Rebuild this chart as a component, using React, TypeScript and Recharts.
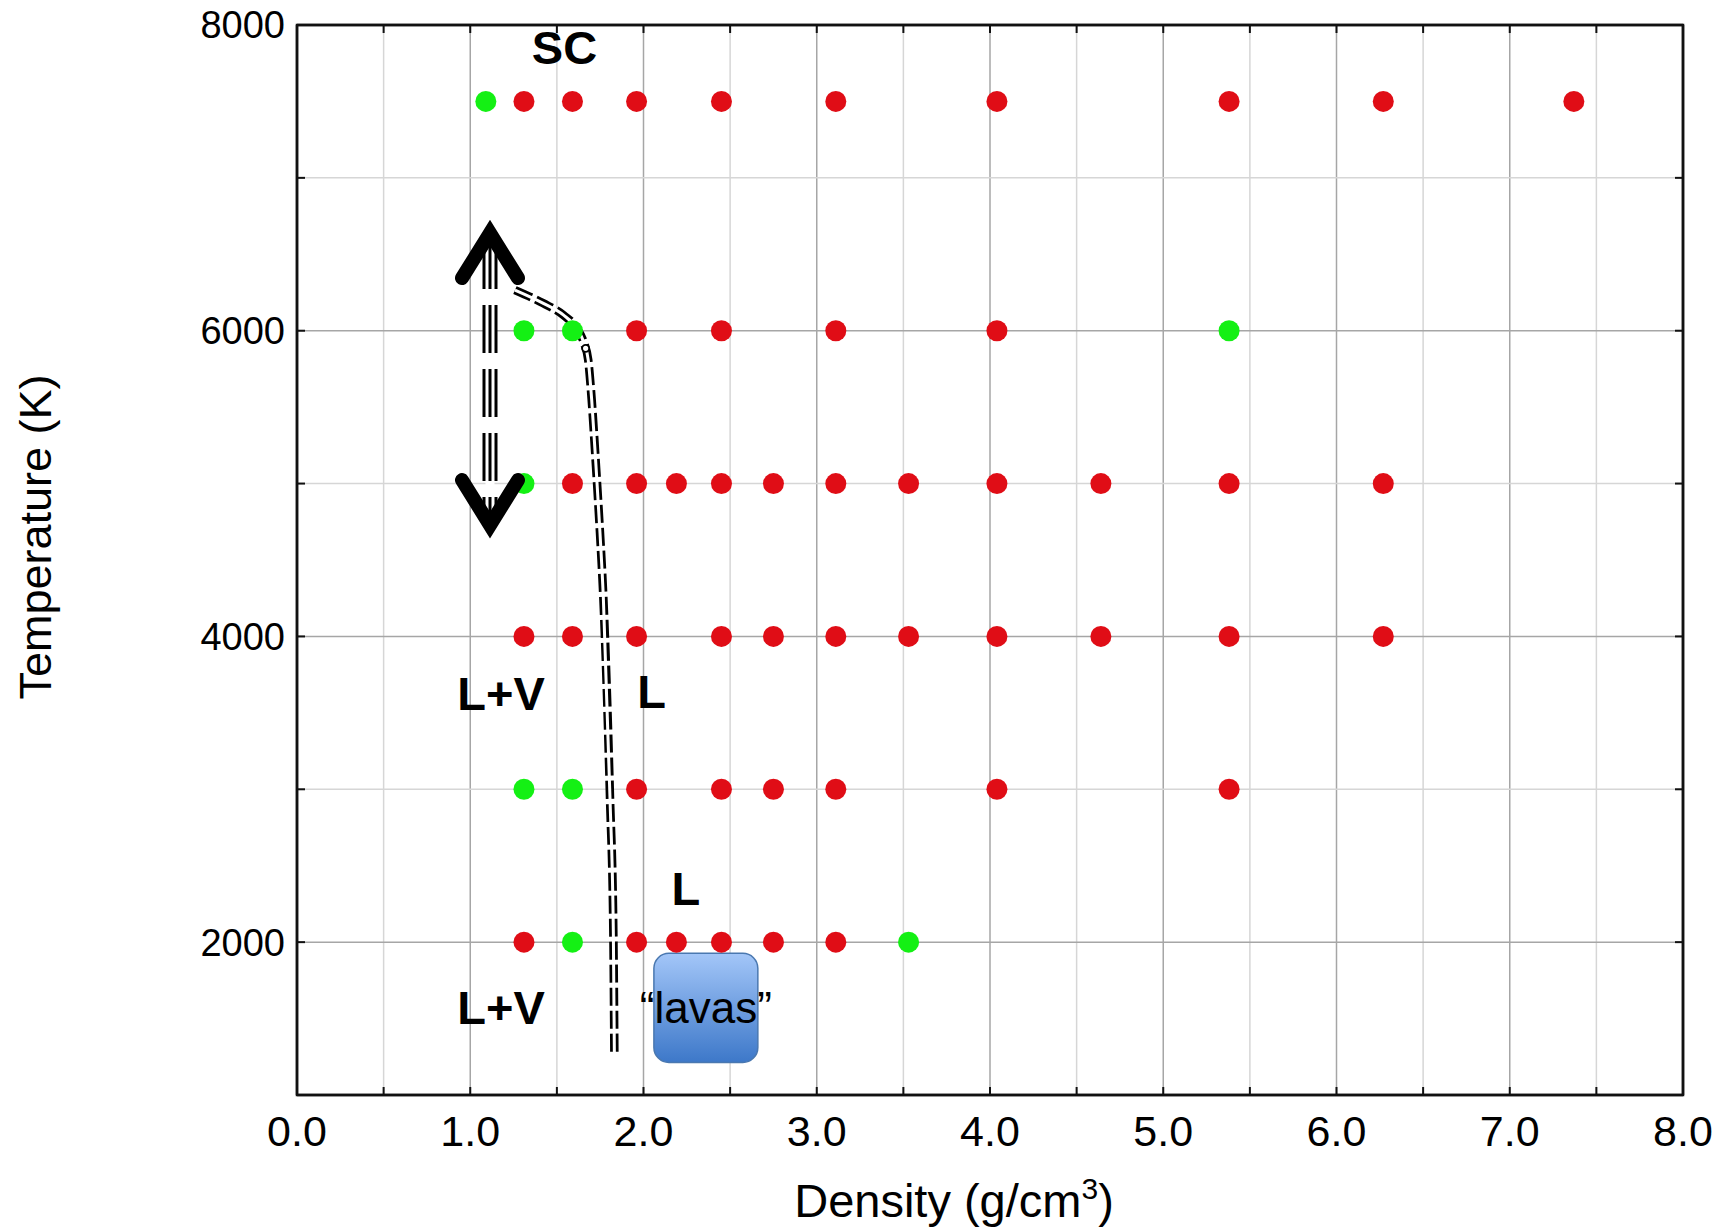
import {
  CartesianGrid,
  ComposedChart,
  Line,
  ReferenceArea,
  Scatter,
  XAxis,
  YAxis,
} from "recharts";

// Simulation grid: density (g/cm3) of each run, grouped by temperature row.
// Red = single fluid, green = runs that phase-separated.
const RED_7500 = [1.31, 1.59, 1.96, 2.45, 3.11, 4.04, 5.38, 6.27, 7.37];
const GREEN_7500 = [1.09];
const RED_6000 = [1.96, 2.45, 3.11, 4.04];
const GREEN_6000 = [1.31, 1.59, 5.38];
const RED_5000 = [1.59, 1.96, 2.19, 2.45, 2.75, 3.11, 3.53, 4.04, 4.64, 5.38, 6.27];
const GREEN_5000 = [1.31];
const RED_4000 = [1.31, 1.59, 1.96, 2.45, 2.75, 3.11, 3.53, 4.04, 4.64, 5.38, 6.27];
const GREEN_4000: number[] = [];
const RED_3000 = [1.96, 2.45, 2.75, 3.11, 4.04, 5.38];
const GREEN_3000 = [1.31, 1.59];
const RED_2000 = [1.31, 1.96, 2.19, 2.45, 2.75, 3.11];
const GREEN_2000 = [1.59, 3.53];

// Liquid–vapour boundary sketched over the grid (density, temperature).
const BOUNDARY = [
  { x: 1.258, y: 6266 },
  { x: 1.422, y: 6179 },
  { x: 1.537, y: 6103 },
  { x: 1.614, y: 6016 },
  { x: 1.657, y: 5918 },
  { x: 1.681, y: 5808 },
  { x: 1.701, y: 5547 },
  { x: 1.726, y: 5110 },
  { x: 1.749, y: 4675 },
  { x: 1.768, y: 4260 },
  { x: 1.807, y: 2930 },
  { x: 1.826, y: 2058 },
  { x: 1.832, y: 1251 },
];
const CRITICAL_POINT = [{ x: 1.666, y: 5885 }];

// Uncertainty arrow on the critical temperature.
const ARROW_X = 1.114;
const ARROW_TOP = 6737;
const ARROW_BOTTOM = 4630;

const LAVAS_BOX = { x1: 2.06, x2: 2.66, y1: 1213, y2: 1927 };

const ANNOTATIONS = [
  { x: 1.544, y: 7748, text: "SC" },
  { x: 1.178, y: 3521, text: "L+V" },
  { x: 2.047, y: 3530, text: "L" },
  { x: 2.244, y: 2243, text: "L" },
  { x: 1.178, y: 1465, text: "L+V" },
];

const X_TICKS = [0, 0.5, 1, 1.5, 2, 2.5, 3, 3.5, 4, 4.5, 5, 5.5, 6, 6.5, 7, 7.5, 8];
const Y_TICKS = [1000, 2000, 3000, 4000, 5000, 6000, 7000, 8000];
const X_GRID_MAJOR = [1, 2, 3, 4, 5, 6, 7];
const X_GRID_MINOR = [0.5, 1.5, 2.5, 3.5, 4.5, 5.5, 6.5, 7.5];
const Y_GRID_MAJOR = [2000, 4000, 6000];
const Y_GRID_MINOR = [3000, 5000, 7000];

const ROWS: [number, number[], number[]][] = [
  [7500, RED_7500, GREEN_7500],
  [6000, RED_6000, GREEN_6000],
  [5000, RED_5000, GREEN_5000],
  [4000, RED_4000, GREEN_4000],
  [3000, RED_3000, GREEN_3000],
  [2000, RED_2000, GREEN_2000],
];
const redPoints = ROWS.flatMap(([t, red]) => red.map((d) => ({ x: d, y: t })));
const greenPoints = ROWS.flatMap(([t, , green]) => green.map((d) => ({ x: d, y: t })));

const FONT = "'Liberation Sans', Arial, Helvetica, sans-serif";
const RED = "#e00d16";
const GREEN = "#14f014";
const AXIS_LINE = { stroke: "#111", strokeWidth: 2.5 };
const TICK_LINE = { stroke: "#111", strokeWidth: 2 };

const dot = (fill: string) => (p: any) => (
  <circle cx={p.cx} cy={p.cy} r={10.5} fill={fill} />
);

const chevronUp = (p: any) => (
  <polyline
    points={`${p.cx - 28},${p.cy + 60} ${p.cx},${p.cy + 15} ${p.cx + 28},${p.cy + 60}`}
    fill="none"
    stroke="#000"
    strokeWidth={14}
    strokeLinecap="round"
    strokeLinejoin="miter"
    strokeMiterlimit={10}
  />
);

const chevronDown = (p: any) => (
  <polyline
    points={`${p.cx - 28},${p.cy - 60} ${p.cx},${p.cy - 15} ${p.cx + 28},${p.cy - 60}`}
    fill="none"
    stroke="#000"
    strokeWidth={14}
    strokeLinecap="round"
    strokeLinejoin="miter"
    strokeMiterlimit={10}
  />
);

const annotation = (p: any) => (
  <text
    x={p.cx}
    y={p.cy}
    textAnchor="middle"
    fontFamily={FONT}
    fontWeight="bold"
    fontSize={47}
    fill="#000"
  >
    {p.payload.text}
  </text>
);

const lavasShape = (p: any) => (
  <g>
    <defs>
      <linearGradient id="lavasFill" x1="0" y1="0" x2="0" y2="1">
        <stop offset="0%" stopColor="#a3c6f8" />
        <stop offset="100%" stopColor="#3d78c9" />
      </linearGradient>
    </defs>
    <rect
      x={p.x}
      y={p.y}
      width={p.width}
      height={p.height}
      rx={15}
      fill="url(#lavasFill)"
      stroke="#4a78b0"
      strokeWidth={1.5}
    />
    <text
      x={p.x + p.width / 2}
      y={p.y + p.height / 2 + 15}
      textAnchor="middle"
      fontFamily={FONT}
      fontSize={44}
      fill="#000"
    >
      {"\u201Clavas\u201D"}
    </text>
  </g>
);

const xTitle = () => (
  <text x={954} y={1217} textAnchor="middle" fontFamily={FONT} fontSize={47} fill="#000">
    Density (g/cm
    <tspan dy={-18} fontSize={30}>
      3
    </tspan>
    <tspan dy={18}>)</tspan>
  </text>
);

const yTitle = () => (
  <text
    x={51}
    y={537}
    transform="rotate(-90 51 537)"
    textAnchor="middle"
    fontFamily={FONT}
    fontSize={45}
    fill="#000"
  >
    Temperature (K)
  </text>
);

const shaft = [
  { x: ARROW_X, y: ARROW_TOP - 150 },
  { x: ARROW_X, y: ARROW_BOTTOM + 150 },
];

export default function App() {
  return (
    <div style={{ position: "absolute", left: 0, top: 0, background: "#fff" }}>
      <ComposedChart
        width={1717}
        height={1228}
        margin={{ top: 24, right: 33, bottom: 0, left: 0 }}
      >
        <CartesianGrid
          horizontal={false}
          verticalValues={X_GRID_MINOR}
          stroke="#d6d6d6"
          strokeWidth={1.5}
        />
        <CartesianGrid
          horizontal={false}
          verticalValues={X_GRID_MAJOR}
          stroke="#a6a6a6"
          strokeWidth={1.5}
        />
        <CartesianGrid
          vertical={false}
          horizontalValues={Y_GRID_MINOR}
          stroke="#d6d6d6"
          strokeWidth={1.5}
        />
        <CartesianGrid
          vertical={false}
          horizontalValues={Y_GRID_MAJOR}
          stroke="#a6a6a6"
          strokeWidth={1.5}
        />
        <XAxis
          type="number"
          dataKey="x"
          domain={[0, 8]}
          ticks={X_TICKS}
          interval={0}
          height={133}
          axisLine={AXIS_LINE}
          tickLine={TICK_LINE}
          tickSize={-8}
          tickMargin={28}
          tick={{ fill: "#000", fontSize: 43, fontFamily: FONT }}
          tickFormatter={(v: number) => (Number.isInteger(v) ? v.toFixed(1) : "")}
          label={xTitle}
          allowDataOverflow
        />
        <XAxis
          xAxisId="top"
          orientation="top"
          type="number"
          dataKey="x"
          domain={[0, 8]}
          ticks={X_TICKS}
          interval={0}
          height={1}
          axisLine={AXIS_LINE}
          tickLine={TICK_LINE}
          tickSize={-8}
          tick={{ fill: "none", fontSize: 1 }}
          tickFormatter={() => ""}
          allowDataOverflow
        />
        <YAxis
          type="number"
          dataKey="y"
          domain={[1000, 8000]}
          ticks={Y_TICKS}
          interval={0}
          width={297}
          axisLine={AXIS_LINE}
          tickLine={TICK_LINE}
          tickSize={-8}
          tickMargin={20}
          tick={{ fill: "#000", fontSize: 38, fontFamily: FONT }}
          tickFormatter={(v: number) => (v % 2000 === 0 ? String(v) : "")}
          label={yTitle}
          allowDataOverflow
        />
        <YAxis
          yAxisId="right"
          orientation="right"
          type="number"
          dataKey="y"
          domain={[1000, 8000]}
          ticks={Y_TICKS}
          interval={0}
          width={1}
          axisLine={AXIS_LINE}
          tickLine={TICK_LINE}
          tickSize={-8}
          tick={{ fill: "none", fontSize: 1 }}
          tickFormatter={() => ""}
          allowDataOverflow
        />
        {/* frame of the plot box */}
        <ReferenceArea
          x1={0}
          x2={8}
          y1={1000}
          y2={8000}
          fill="none"
          fillOpacity={0}
          stroke="#111"
          strokeWidth={2.5}
          strokeOpacity={1}
        />
        <Scatter data={redPoints} shape={dot(RED)} isAnimationActive={false} />
        <Scatter data={greenPoints} shape={dot(GREEN)} isAnimationActive={false} />
        {/* keep the top/right frame axes tied to the same data */}
        <Scatter
          data={redPoints}
          xAxisId="top"
          yAxisId="right"
          shape={() => <g />}
          isAnimationActive={false}
        />
        <ReferenceArea
          x1={LAVAS_BOX.x1}
          x2={LAVAS_BOX.x2}
          y1={LAVAS_BOX.y1}
          y2={LAVAS_BOX.y2}
          shape={lavasShape}
        />
        {/* double dashed boundary: wide black dashes split by a thin white core */}
        <Line
          data={BOUNDARY}
          dataKey="y"
          type="monotone"
          stroke="#000"
          strokeWidth={8.5}
          strokeDasharray="18 5"
          dot={false}
          activeDot={false}
          isAnimationActive={false}
        />
        <Line
          data={BOUNDARY}
          dataKey="y"
          type="monotone"
          stroke="#fff"
          strokeWidth={3}
          dot={false}
          activeDot={false}
          isAnimationActive={false}
        />
        <Scatter
          data={CRITICAL_POINT}
          shape={(p: any) => (
            <circle cx={p.cx} cy={p.cy} r={3.5} fill="#fff" stroke="#000" strokeWidth={1.8} />
          )}
          isAnimationActive={false}
        />
        {/* triple dashed arrow shaft */}
        <Line
          data={shaft}
          dataKey="y"
          stroke="#000"
          strokeWidth={15}
          strokeDasharray="48 16"
          dot={false}
          activeDot={false}
          isAnimationActive={false}
        />
        <Line
          data={shaft}
          dataKey="y"
          stroke="#fff"
          strokeWidth={9}
          dot={false}
          activeDot={false}
          isAnimationActive={false}
        />
        <Line
          data={shaft}
          dataKey="y"
          stroke="#000"
          strokeWidth={3}
          strokeDasharray="48 16"
          dot={false}
          activeDot={false}
          isAnimationActive={false}
        />
        <Scatter
          data={[{ x: ARROW_X, y: ARROW_TOP }]}
          shape={chevronUp}
          isAnimationActive={false}
        />
        <Scatter
          data={[{ x: ARROW_X, y: ARROW_BOTTOM }]}
          shape={chevronDown}
          isAnimationActive={false}
        />
        <Scatter data={ANNOTATIONS} shape={annotation} isAnimationActive={false} />
      </ComposedChart>
    </div>
  );
}
